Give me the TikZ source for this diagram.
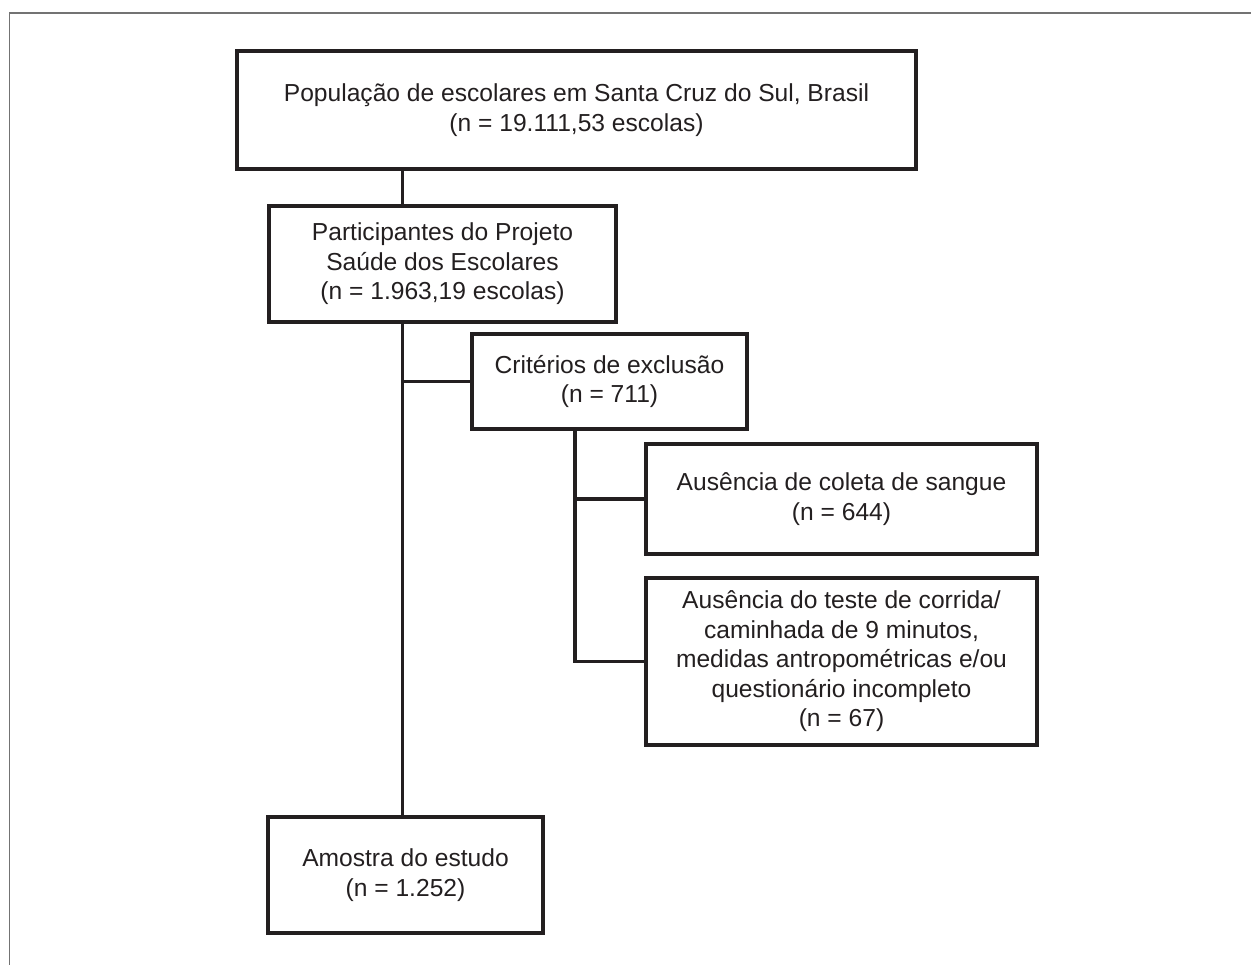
\documentclass[tikz,border=0pt]{standalone}
\usepackage{fontspec}
\setmainfont{Liberation Sans}
\usepackage{tikz}

\definecolor{ink}{HTML}{231F20}

\tikzset{
    caixa/.style={draw=ink, line width=2.2pt, align=center, inner sep=0pt,
        text=ink, font=\fontsize{14}{16.8}\selectfont},
    linha/.style={draw=ink, line width=2.2pt}
}

\begin{document}
\begin{tikzpicture}[x=0.02cm, y=-0.02cm]
        % 边框
        \useasboundingbox (0,0) rectangle (1251,965);
        \draw [black!55, line width=0.9pt] (1251,13) -- (9.5,13) -- (9.5,965);
        % 方框
        \node [caixa, minimum width=679*0.02cm, minimum height=118*0.02cm] (pop) at (576.5,110)
            {População de escolares em Santa Cruz do Sul, Brasil\\(n = 19.111,53 escolas)};
        \node [caixa, minimum width=347*0.02cm, minimum height=116*0.02cm] (part) at (442.5,264)
            {Participantes do Projeto\\Saúde dos Escolares\\(n = 1.963,19 escolas)};
        \node [caixa, minimum width=275*0.02cm, minimum height=95*0.02cm] (crit) at (609.5,381.5)
            {Critérios de exclusão\\(n = 711)};
        \node [caixa, minimum width=391*0.02cm, minimum height=110*0.02cm] (aus1) at (841.5,499)
            {Ausência de coleta de sangue\\(n = 644)};
        \node [caixa, minimum width=391*0.02cm, minimum height=167*0.02cm] (aus2) at (841.5,661.5)
            {Ausência do teste de corrida/\\caminhada de 9 minutos,\\medidas antropométricas e/ou\\questionário incompleto\\(n = 67)};
        \node [caixa, minimum width=275*0.02cm, minimum height=116*0.02cm] (amostra) at (405.5,875)
            {Amostra do estudo\\(n = 1.252)};
        % 连线
        \coordinate (tronco) at (402.5,0);
        \coordinate (ramo) at (575,0);
        \draw [linha] (tronco |- pop.south) -- (tronco |- part.north);
        \draw [linha] (tronco |- part.south) -- (tronco |- amostra.north);
        \draw [linha] (tronco |- crit.west) -- (crit.west);
        \draw [linha] (ramo |- crit.south) -- (ramo |- aus2.west) -- (aus2.west);
        \draw [linha] (ramo |- aus1.west) -- (aus1.west);
    \end{tikzpicture}
\end{document}
